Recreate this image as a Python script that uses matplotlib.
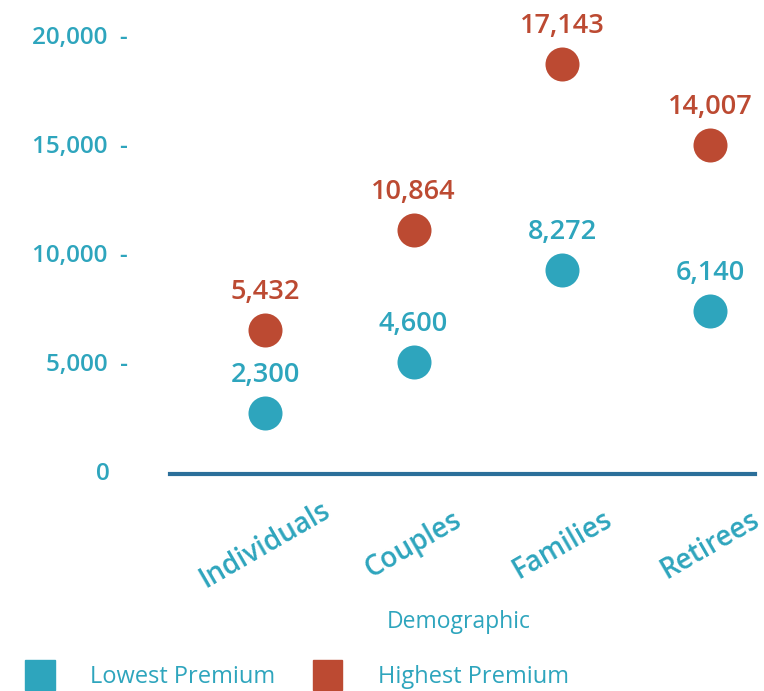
import numpy as np
import matplotlib
matplotlib.use('Agg')
import matplotlib.pyplot as plt
import matplotlib.transforms as mtransforms
from matplotlib.patches import Patch

# data
categories = ['Individuals', 'Couples', 'Families', 'Retirees']
low_labels = [2300, 4600, 8272, 6140]       # printed values
high_labels = [5432, 10864, 17143, 14007]
low_pos = [2800, 5140, 9360, 7480]          # dot heights as drawn
high_pos = [6610, 11190, 18810, 15090]
yticks = [0, 5000, 10000, 15000, 20000]

teal = '#2ea5bd'
red = '#bc4a32'
axis_col = '#2b6f9a'

plt.rcParams['font.family'] = ['Open Sans', 'DejaVu Sans']

W, H = 764, 691
fig = plt.figure(figsize=(W/100, H/100), dpi=100)
ax = fig.add_axes([170/W, (H-474)/H, 585/W, 469/H])
ax.set_xlim(-0.64, 3.30)
ax.set_ylim(0, 21500)
for s in ax.spines.values():
    s.set_visible(False)
ax.set_xticks([])
ax.set_yticks([])
ax.axhline(0, color=axis_col, lw=3, clip_on=False)

x = np.arange(len(categories))
ax.scatter(x, low_pos, s=600, color=teal, zorder=3, linewidths=0)
ax.scatter(x, high_pos, s=600, color=red, zorder=3, linewidths=0)

for xi, v, p in zip(x, low_labels, low_pos):
    ax.annotate(f'{v:,}', (xi, p), xytext=(0, 27), textcoords='offset points',
                ha='center', va='center', color=teal, fontsize=19.5, fontweight='semibold')
for xi, v, p in zip(x, high_labels, high_pos):
    ax.annotate(f'{v:,}', (xi, p), xytext=(0, 27), textcoords='offset points',
                ha='center', va='center', color=red, fontsize=19.5, fontweight='semibold')

# y tick labels
trans = mtransforms.blended_transform_factory(ax.transAxes, ax.transData)
for t in yticks:
    if t == 0:
        ax.text(-60/585, t, '0', transform=trans, ha='right', va='center',
                color=teal, fontsize=17.5, fontweight='semibold')
    else:
        ax.text(-42/585, t, f'{t:,}  -', transform=trans, ha='right', va='center',
                color=teal, fontsize=17.5, fontweight='semibold')

# category labels
trans_x = mtransforms.blended_transform_factory(ax.transData, ax.transAxes)
for xi, c in zip(x, categories):
    ax.text(xi, -71/469, c, transform=trans_x, rotation=30, ha='center', va='center',
            color=teal, fontsize=20, fontweight='semibold')

fig.text(459/W, 1-622/H, 'Demographic', ha='center', va='center', color=teal, fontsize=16.5)

handles = [Patch(color=teal), Patch(color=red)]
leg = fig.legend(handles, ['Lowest Premium', 'Highest Premium'], loc='lower left',
                 bbox_to_anchor=(0.005, -0.03), ncol=2, frameon=False, fontsize=17,
                 handlelength=1.25, handleheight=1.6, handletextpad=1.5, columnspacing=1.6)
for t in leg.get_texts():
    t.set_color(teal)

fig.savefig('out.png', dpi=100)
